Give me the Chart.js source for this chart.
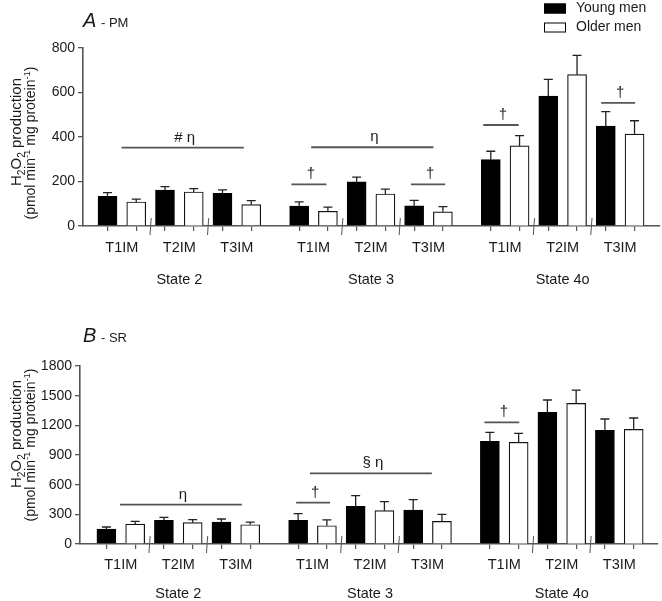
<!DOCTYPE html>
<html><head><meta charset="utf-8">
<script src="https://cdn.jsdelivr.net/npm/chart.js@4"></script>
<style>
html,body{margin:0;padding:0;background:#fff;}
#wrap{position:relative;width:662px;height:601px;overflow:hidden;}
canvas{position:absolute;left:0;}
</style></head><body>
<div id="wrap">
<canvas id="cA" width="662" height="300" style="top:0"></canvas>
<canvas id="cB" width="662" height="301" style="top:300px"></canvas>
</div>
<script>
// ---------- data ----------
const states = ['State 2', 'State 3', 'State 4o'];
const timepoints = ['T1IM', 'T2IM', 'T3IM'];
const seriesNames = ['Young men', 'Older men'];

// Panel A - PM (order: State 2 T1..T3, State 3 T1..T3, State 4o T1..T3)
const pmYoung    = [133, 162, 147,  90, 199,  91, 298, 584, 449];
const pmYoungSem = [ 17,  15,  15,  18,  21,  24,  38,  75,  65];
const pmOlder    = [108, 153,  96,  66, 144,  64, 360, 680, 413];
const pmOlderSem = [ 13,  15,  18,  19,  22,  23,  46,  87,  60];
const pmTicks = [0, 200, 400, 600, 800];

// Panel B - SR
const srYoung    = [152, 239, 222, 239, 381, 344, 1038, 1331, 1149];
const srYoungSem = [ 20,  31,  31,  68, 108, 104,   91,  125,  115];
const srOlder    = [202, 216, 195, 185, 337, 229, 1028, 1422, 1159];
const srOlderSem = [ 27,  30,  27,  58,  91,  71,   91,  135,  115];
const srTicks = [0, 300, 600, 900, 1200, 1500, 1800];

// significance annotations: state, span in bar slots within the state, value level, label
const pmSig = [
  {state: 0, from: 0.49, to: 4.74, y: 352, text: '# η'},
  {state: 1, from: 0.42, to: 4.67, y: 354, text: 'η'},
  {state: 1, from: -0.27, to: 0.95, y: 187, text: '†'},
  {state: 1, from: 3.89, to: 5.08, y: 187, text: '†'},
  {state: 2, from: -0.26, to: 0.97, y: 454, text: '†'},
  {state: 2, from: 3.84, to: 5.02, y: 553, text: '†'}
];
const srSig = [
  {state: 0, from: 0.47, to: 4.71, y: 398, text: 'η'},
  {state: 1, from: 0.41, to: 4.65, y: 715, text: '§ η'},
  {state: 1, from: -0.07, to: 1.11, y: 418, text: '†'},
  {state: 2, from: -0.19, to: 1.02, y: 1230, text: '†'}
];

// ---------- layout helpers ----------
const FONT = '"Liberation Sans", Arial, Helvetica, sans-serif';
Chart.defaults.font.family = FONT;
const STATE_GAP = 0.667;
function pos(state, slot) { return state * (6 + STATE_GAP) + slot; }
const barPositions = [];
for (let s = 0; s < states.length; s++) for (let k = 0; k < 6; k++) barPositions.push(pos(s, k));

function richWidth(ctx, parts, size) {
  let w = 0;
  parts.forEach(p => {
    ctx.font = (p[1] ? size * 0.68 : size) + 'px ' + FONT;
    w += ctx.measureText(p[0]).width;
  });
  return w;
}
function drawRich(ctx, parts, size, cx, base) {
  const w = richWidth(ctx, parts, size);
  let x = cx - w / 2;
  parts.forEach(p => {
    ctx.font = (p[1] ? size * 0.68 : size) + 'px ' + FONT;
    const dy = p[1] === -1 ? 3.5 : (p[1] === 1 ? -5 : 0);
    ctx.fillText(p[0], x, base + dy);
    x += ctx.measureText(p[0]).width;
  });
}
const yTitle1 = [['H', 0], ['2', -1], ['O', 0], ['2', -1], [' production', 0]];
const yTitle2 = [['(pmol min', 0], ['-1', 1], [' mg protein', 0], ['-1', 1], [')', 0]];

const errorBars = {
  id: 'errorBars',
  afterDatasetsDraw(chart) {
    const ctx = chart.ctx, ys = chart.scales.y;
    ctx.save();
    ctx.strokeStyle = '#222';
    ctx.lineWidth = 1.3;
    chart.data.datasets.forEach((ds, di) => {
      const meta = chart.getDatasetMeta(di);
      meta.data.forEach((el, i) => {
        const v = ds.data[i].y, e = ds.sem[i];
        const yTop = ys.getPixelForValue(v + e);
        ctx.beginPath();
        ctx.moveTo(el.x, el.y);
        ctx.lineTo(el.x, yTop);
        ctx.moveTo(el.x - 4.5, yTop);
        ctx.lineTo(el.x + 4.5, yTop);
        ctx.stroke();
      });
    });
    ctx.restore();
  }
};

function makeDecor(o) {
  return {
    id: 'decor',
    afterDraw(chart) {
      const ctx = chart.ctx, xs = chart.scales.x, ys = chart.scales.y, ca = chart.chartArea;
      ctx.save();
      // separators
      ctx.strokeStyle = '#555'; ctx.lineWidth = 1;
      for (let s = 0; s < states.length; s++) {
        [1.5, 3.5].forEach(k => {
          const x = xs.getPixelForValue(pos(s, k));
          ctx.beginPath();
          ctx.moveTo(x + 0.6, ca.bottom - 8);
          ctx.lineTo(x - 0.6, ca.bottom + 9);
          ctx.stroke();
        });
      }
      // category labels
      ctx.fillStyle = '#1a1a1a';
      ctx.textAlign = 'center'; ctx.textBaseline = 'middle';
      ctx.font = '14.5px ' + FONT;
      for (let s = 0; s < states.length; s++) {
        timepoints.forEach((t, ti) => {
          ctx.fillText(t, xs.getPixelForValue(pos(s, ti * 2 + 0.5)), ca.bottom + o.tickDy);
        });
        ctx.fillText(states[s], xs.getPixelForValue(pos(s, 2.5)), ca.bottom + o.stateDy);
      }
      // significance lines
      o.sig.forEach(a => {
        const x0 = xs.getPixelForValue(pos(a.state, a.from));
        const x1 = xs.getPixelForValue(pos(a.state, a.to));
        const y = ys.getPixelForValue(a.y);
        ctx.strokeStyle = '#555'; ctx.lineWidth = 1.8;
        ctx.beginPath(); ctx.moveTo(x0, y); ctx.lineTo(x1, y); ctx.stroke();
        ctx.fillStyle = '#1a1a1a';
        ctx.font = '15px ' + FONT;
        ctx.textBaseline = 'alphabetic';
        ctx.fillText(a.text, (x0 + x1) / 2 + 2, y - 6);
      });
      // panel title
      ctx.textAlign = 'left'; ctx.textBaseline = 'alphabetic';
      ctx.font = 'italic 20px ' + FONT;
      ctx.fillText(o.letter, 83, o.titleBase);
      const lw = ctx.measureText(o.letter).width;
      ctx.font = '13px ' + FONT;
      ctx.fillText(' - ' + o.sub, 83 + lw + 1, o.titleBase);
      // y axis title
      ctx.save();
      ctx.rotate(-Math.PI / 2);
      ctx.textAlign = 'left';
      drawRich(ctx, yTitle1, 15, -o.yTitleC1, 21);
      drawRich(ctx, yTitle2, 14, -o.yTitleC2, 35);
      ctx.restore();
      // legend
      if (o.legend) {
        chart.data.datasets.forEach((ds, i) => {
          const cy = 8.5 + i * 19;
          ctx.fillStyle = ds.backgroundColor;
          ctx.fillRect(544, cy - 5, 22, 10);
          ctx.strokeStyle = '#000'; ctx.lineWidth = 1;
          ctx.strokeRect(544.5, cy - 4.5, 21, 9);
          ctx.fillStyle = '#1a1a1a';
          ctx.font = '14px ' + FONT;
          ctx.textBaseline = 'middle';
          ctx.fillText(ds.label, 576, cy);
        });
      }
      ctx.restore();
    }
  };
}

function makeChart(id, o) {
  const axisColor = '#555';
  return new Chart(document.getElementById(id), {
    type: 'bar',
    data: {
      datasets: [
        {label: seriesNames[0], sem: o.youngSem,
         data: o.young.map((v, k) => ({x: pos(Math.floor(k / 3), (k % 3) * 2), y: v})),
         backgroundColor: '#000', borderColor: '#000', borderWidth: 1},
        {label: seriesNames[1], sem: o.olderSem,
         data: o.older.map((v, k) => ({x: pos(Math.floor(k / 3), (k % 3) * 2 + 1), y: v})),
         backgroundColor: '#fff', borderColor: '#111', borderWidth: 1.2}
      ]
    },
    options: {
      responsive: false, animation: false, devicePixelRatio: 1,
      layout: {padding: {top: o.top, right: o.W - o.right, left: 0, bottom: 0}},
      datasets: {bar: {barThickness: 19, grouped: false, borderSkipped: 'bottom'}},
      scales: {
        x: {
          type: 'linear', min: o.xmin, max: o.xmax, offset: false,
          afterBuildTicks: ax => { ax.ticks = barPositions.map(v => ({value: v})); },
          afterFit: ax => { ax.height = o.H - o.bottom; },
          ticks: {display: false},
          grid: {display: true, drawOnChartArea: false, drawTicks: true, tickLength: 5, color: axisColor, lineWidth: 1.2, offset: false},
          border: {display: true, color: axisColor, width: 1.6}
        },
        y: {
          min: 0, max: o.ticks[o.ticks.length - 1],
          afterBuildTicks: ax => { ax.ticks = o.ticks.map(v => ({value: v})); },
          afterFit: ax => { ax.width = o.left; },
          ticks: {color: '#1a1a1a', font: {size: 14}, padding: 3, callback: v => String(v)},
          grid: {display: true, drawOnChartArea: false, drawTicks: true, tickLength: 5, color: axisColor, lineWidth: 1.3},
          border: {display: true, color: axisColor, width: 1.6}
        }
      },
      plugins: {legend: {display: false}, tooltip: {enabled: false}}
    },
    plugins: [errorBars, makeDecor(o)]
  });
}

makeChart('cA', {
  young: pmYoung, youngSem: pmYoungSem, older: pmOlder, olderSem: pmOlderSem, ticks: pmTicks, sig: pmSig,
  W: 662, H: 300, top: 48, bottom: 226, left: 83, right: 660, xmin: -0.852, xmax: 19.22,
  tickDy: 22, stateDy: 53.5, letter: 'A', sub: 'PM', titleBase: 27, yTitleC1: 132, yTitleC2: 143, legend: true
});
makeChart('cB', {
  young: srYoung, youngSem: srYoungSem, older: srOlder, olderSem: srOlderSem, ticks: srTicks, sig: srSig,
  W: 662, H: 301, top: 66, bottom: 244, left: 80, right: 658, xmin: -0.918, xmax: 19.18,
  tickDy: 21, stateDy: 49.5, letter: 'B', sub: 'SR', titleBase: 42, yTitleC1: 134, yTitleC2: 145, legend: false
});
</script>
</body></html>
